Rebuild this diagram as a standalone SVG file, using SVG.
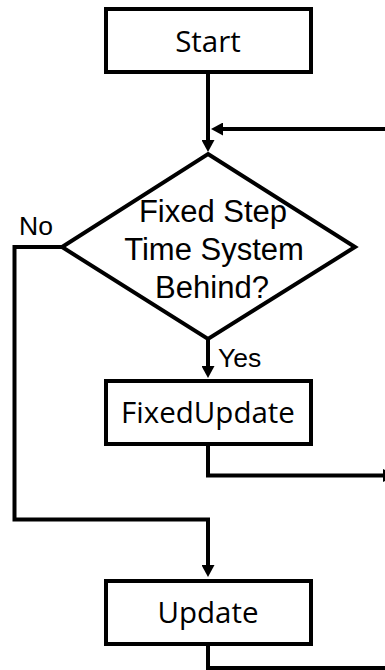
<svg xmlns="http://www.w3.org/2000/svg" width="385" height="670" viewBox="0 0 385 670">
  <style>
    .box { fill: #ffffff; stroke: #000000; stroke-width: 4; }
    .diamond { fill: #ffffff; stroke: #000000; stroke-width: 4; stroke-linejoin: miter; }
    .boxlabel { font-family: "Open Sans", "Noto Sans", sans-serif; font-size: 29.5px; fill: #000000; text-anchor: middle; }
    .qlabel { font-family: "Liberation Sans", Arial, sans-serif; font-size: 31px; fill: #000000; text-anchor: middle; }
    .edgelabel { font-family: "Liberation Sans", Arial, sans-serif; font-size: 26.5px; fill: #000000; }
    .wire { fill: none; stroke: #000000; stroke-width: 4; stroke-linejoin: miter; stroke-linecap: butt; }
  </style>
  <defs>
    <marker id="arrow" viewBox="0 0 12 13" markerWidth="12" markerHeight="13" refX="2" refY="6.5" orient="auto" markerUnits="userSpaceOnUse">
      <path d="M0,0 L12,6.5 L0,13 z" fill="#000000"/>
    </marker>
  </defs>

  <!-- connectors -->
  <g id="connectors">
    <!-- Start to decision -->
    <path class="wire" d="M208,72 L208,142" marker-end="url(#arrow)"/>
    <!-- loop return into decision -->
    <path class="wire" d="M390,129 L221,129" marker-end="url(#arrow)"/>
    <!-- Yes branch -->
    <path class="wire" d="M208,339 L208,368" marker-end="url(#arrow)"/>
    <!-- No branch -->
    <path class="wire" d="M62,247 L14.5,247 L14.5,519.5 L208,519.5 L208,567" marker-end="url(#arrow)"/>
    <!-- FixedUpdate back to loop -->
    <path class="wire" d="M208,444 L208,475.5 L385,475.5" marker-end="url(#arrow)"/>
    <!-- Update back to loop -->
    <path class="wire" d="M208,644 L208,668 L390,668"/>
  </g>

  <!-- edge labels -->
  <text class="edgelabel" x="19" y="235">No</text>
  <text class="edgelabel" x="218" y="367">Yes</text>

  <g id="start">
    <rect class="box" x="106" y="9" width="205" height="63"/>
    <text class="boxlabel" x="208" y="52">Start</text>
  </g>

  <g id="decision">
    <polygon class="diamond" points="208,154 355,247 208,339 62,247"/>
    <text class="qlabel" x="213" y="222">Fixed Step</text>
    <text class="qlabel" x="214" y="260">Time System</text>
    <text class="qlabel" x="212" y="298">Behind?</text>
  </g>

  <g id="fixedupdate">
    <rect class="box" x="106" y="381" width="205" height="63"/>
    <text class="boxlabel" x="208" y="423">FixedUpdate</text>
  </g>

  <g id="update">
    <rect class="box" x="106" y="581" width="205" height="63"/>
    <text class="boxlabel" x="208" y="623">Update</text>
  </g>
</svg>
